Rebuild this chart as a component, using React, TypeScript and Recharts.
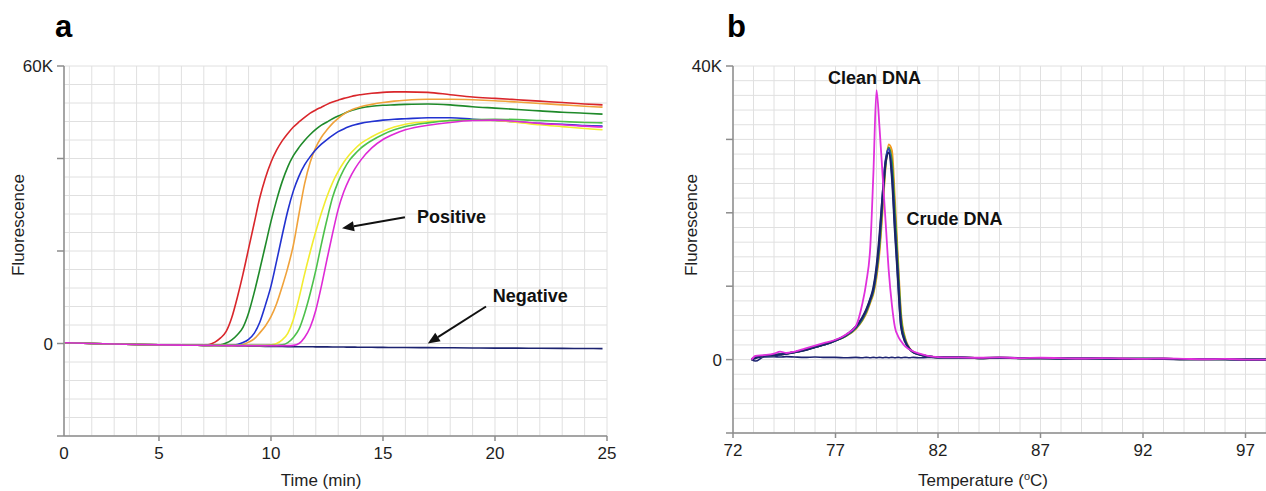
import React from "react";
import {
  LineChart,
  Line,
  XAxis,
  YAxis,
  CartesianGrid,
  ReferenceLine,
  ReferenceDot,
} from "recharts";

const FONT = '"Liberation Sans", Arial, Helvetica, sans-serif';
const AXIS = "#8c8c8c";
const GRID = "#e0e0e0";
const INK = "#1e1e1e";

// ---------- panel a: amplification (min, fluorescence in K) ----------
const startA = 0.76;
const timeA = [0.8, 2, 4, 6, 6.5, 7, 7.25, 7.5, 7.75, 8, 8.25, 8.5, 8.75, 9, 9.25, 9.5, 9.75, 10, 10.25, 10.5, 10.75, 11, 11.25, 11.5, 11.75, 12, 12.25, 12.5, 12.75, 13, 13.25, 13.5, 13.75, 14, 14.5, 15, 15.5, 16, 17, 18, 19, 20, 21, 22, 23, 24, 24.8];
const redA = [0.15, 0, -0.2, -0.35, -0.38, -0.35, -0.2, 0.3, 1.2, 2.6, 5.6, 10.0, 15.0, 20.5, 26, 31.5, 35.8, 39.2, 41.8, 43.8, 45.4, 46.8, 47.9, 48.9, 49.8, 50.5, 51.1, 51.7, 52.2, 52.6, 53.0, 53.3, 53.6, 53.8, 54.1, 54.3, 54.4, 54.4, 54.3, 53.8, 53.3, 53.0, 52.7, 52.4, 52.1, 51.8, 51.6];
const darkGreenA = [0.15, 0, -0.2, -0.35, -0.38, -0.4, -0.4, -0.35, -0.3, 0.1, 0.8, 1.9, 3.5, 6.6, 11.0, 16.0, 21.2, 26.4, 31.0, 35.0, 38.2, 40.6, 42.4, 43.9, 45.2, 46.3, 47.2, 47.9, 48.6, 49.2, 49.7, 50.2, 50.6, 50.9, 51.3, 51.5, 51.6, 51.7, 51.8, 51.6, 51.2, 50.9, 50.6, 50.3, 50.0, 49.8, 49.6];
const orangeA = [0.15, 0, -0.2, -0.35, -0.38, -0.4, -0.4, -0.4, -0.4, -0.4, -0.4, -0.35, -0.2, 0.3, 1.0, 2.3, 3.8, 5.8, 8.6, 12.3, 16.4, 21.3, 28.0, 34.5, 39.2, 42.4, 44.6, 46.2, 47.6, 48.7, 49.6, 50.3, 50.8, 51.2, 51.7, 52.1, 52.4, 52.6, 52.8, 52.8, 52.7, 52.5, 52.2, 51.9, 51.6, 51.3, 51.1];
const blueA = [0.15, 0, -0.2, -0.35, -0.38, -0.4, -0.4, -0.4, -0.4, -0.4, -0.35, -0.2, 0.2, 0.9, 2.2, 4.6, 8.3, 12.4, 17.8, 23.4, 28.7, 33.0, 36.2, 38.6, 40.4, 41.9, 43.1, 44.1, 45.0, 45.8, 46.4, 46.9, 47.3, 47.6, 48.0, 48.3, 48.5, 48.6, 48.8, 48.8, 48.5, 48.2, 47.9, 47.6, 47.4, 47.1, 47.0];
const yellowA = [0.15, 0, -0.2, -0.35, -0.38, -0.4, -0.4, -0.4, -0.4, -0.4, -0.4, -0.4, -0.4, -0.4, -0.4, -0.4, -0.4, -0.3, 0, 0.8, 2.2, 5.2, 9.8, 15.0, 19.8, 24.2, 28.2, 31.8, 34.8, 37.2, 39.2, 40.8, 42.1, 43.2, 44.7, 45.9, 46.8, 47.4, 48.0, 48.2, 48.3, 48.2, 47.8, 47.3, 46.9, 46.5, 46.2];
const lightGreenA = [0.15, 0, -0.2, -0.35, -0.38, -0.4, -0.4, -0.4, -0.4, -0.4, -0.4, -0.4, -0.4, -0.4, -0.4, -0.4, -0.4, -0.4, -0.4, -0.3, 0.2, 1.3, 3.1, 6.5, 10.8, 15.8, 21.5, 26.8, 31.6, 35.0, 37.6, 39.6, 41.0, 42.2, 43.9, 45.2, 46.2, 46.9, 47.7, 48.2, 48.4, 48.5, 48.4, 48.2, 48.0, 47.8, 47.7];
const magentaA = [0.15, 0, -0.2, -0.35, -0.38, -0.4, -0.4, -0.42, -0.42, -0.45, -0.45, -0.45, -0.45, -0.45, -0.45, -0.45, -0.45, -0.45, -0.45, -0.45, -0.45, -0.4, 0, 1.3, 3.5, 7.2, 12.4, 18.2, 23.8, 29, 32.8, 35.6, 37.8, 39.6, 42.3, 44.1, 45.3, 46.2, 47.2, 47.8, 48.2, 48.3, 48.0, 47.6, 47.3, 47.0, 46.8];
const negativeA = [0.15, 0, -0.2, -0.35, -0.38, -0.4, -0.42, -0.44, -0.46, -0.48, -0.5, -0.52, -0.54, -0.56, -0.58, -0.6, -0.62, -0.64, -0.65, -0.66, -0.67, -0.68, -0.69, -0.7, -0.71, -0.72, -0.73, -0.74, -0.75, -0.76, -0.77, -0.78, -0.79, -0.8, -0.82, -0.84, -0.86, -0.88, -0.9, -0.93, -0.96, -0.99, -1.01, -1.03, -1.05, -1.08, -1.1];

const gridTimeA = [startA, 1, 2, 3, 4, 5, 6, 7, 8, 9, 10, 11, 12, 13, 14, 15, 16, 17, 18, 19, 20, 21, 22, 23, 24, 25];
const markTimeA = [5, 10, 15, 20, 25];
const labelTimeA = [startA, 5, 10, 15, 20, 25];
const gridFluA = [-20, -16, -12, -8, -4, 0, 4, 8, 12, 16, 20, 24, 28, 32, 36, 40, 44, 48, 52, 56, 60];
const markFluA = [-20, 0, 20, 40, 60];
const labelFluA: Record<number, string> = { 60: "60K", 0: "0" };

// ---------- panel b: melt curve (deg C, fluorescence in K) ----------
const tempB = [72.9, 73.1, 73.5, 74, 74.3, 74.6, 75, 75.5, 76, 76.5, 77, 77.5, 78, 78.3, 78.5, 78.7, 78.85, 79, 79.15, 79.3, 79.45, 79.6, 79.75, 79.9, 80.05, 80.2, 80.4, 80.6, 80.8, 81.1, 81.5, 82, 83, 84, 85, 86, 87, 88, 89, 90, 91, 92, 93, 94, 95, 96, 97, 98];
const cleanB = [0, 0.5, 0.6, 0.8, 1.1, 0.9, 1.1, 1.5, 1.9, 2.3, 2.7, 3.4, 4.6, 7.5, 10.5, 15.5, 25.5, 36.7, 31.5, 25, 18.5, 12, 7.5, 4.4, 3.2, 2.5, 1.8, 1.4, 1.1, 0.8, 0.5, 0.35, 0.3, 0.25, 0.3, 0.2, 0.25, 0.2, 0.15, 0.2, 0.15, 0.1, 0.15, 0.1, 0.05, 0.1, 0, 0];
const orangeB = [0, 0.3, 0.5, 0.6, 0.7, 0.8, 1.0, 1.3, 1.7, 2.1, 2.6, 3.2, 4.2, 5.3, 6.3, 7.8, 9.0, 11.2, 14.8, 20.5, 26.5, 29.3, 28.5, 21.5, 13.5, 6.2, 2.9, 1.6, 1.0, 0.7, 0.45, 0.3, 0.3, 0.2, 0.25, 0.2, 0.2, 0.15, 0.15, 0.15, 0.1, 0.1, 0.1, 0.05, 0.05, 0.05, 0, 0];
const greenB = [0, 0.3, 0.5, 0.6, 0.7, 0.8, 1.0, 1.3, 1.7, 2.1, 2.6, 3.2, 4.3, 5.4, 6.5, 8.0, 9.3, 11.8, 15.6, 21.5, 26.8, 28.9, 27, 20, 12.5, 5.6, 2.7, 1.5, 1.0, 0.7, 0.45, 0.3, 0.3, 0.2, 0.25, 0.2, 0.2, 0.15, 0.15, 0.15, 0.1, 0.1, 0.1, 0.05, 0.05, 0.05, 0, 0];
const blueB = [0, 0.3, 0.5, 0.6, 0.7, 0.8, 1.0, 1.3, 1.7, 2.1, 2.6, 3.3, 4.4, 5.6, 6.7, 8.2, 9.6, 12.3, 16.5, 22.6, 27.3, 28.7, 25.5, 18, 11, 4.6, 2.5, 1.5, 1.0, 0.7, 0.45, 0.3, 0.3, 0.2, 0.25, 0.2, 0.2, 0.15, 0.15, 0.15, 0.1, 0.1, 0.1, 0.05, 0.05, 0.05, 0, 0];
const navyB = [0, 0.2, 0.5, 0.6, 0.7, 0.8, 1.0, 1.3, 1.7, 2.1, 2.6, 3.3, 4.5, 5.7, 6.8, 8.3, 9.8, 12.6, 17, 22.4, 27, 28.2, 25, 17.5, 10.8, 4.5, 2.4, 1.5, 1.0, 0.7, 0.45, 0.3, 0.3, 0.2, 0.25, 0.2, 0.2, 0.15, 0.15, 0.15, 0.1, 0.1, 0.1, 0.05, 0.05, 0.05, 0, 0];
const negativeB = [0, -0.2, 0.35, 0.4, 0.35, 0.4, 0.35, 0.3, 0.35, 0.3, 0.3, 0.25, 0.3, 0.25, 0.3, 0.25, 0.3, 0.25, 0.3, 0.25, 0.3, 0.25, 0.3, 0.25, 0.3, 0.25, 0.3, 0.25, 0.3, 0.25, 0.3, 0.3, 0.25, 0.2, 0.25, 0.2, 0.2, 0.15, 0.15, 0.15, 0.1, 0.1, 0.1, 0.05, 0.05, 0.05, 0, 0];

const gridTempB = [72, 73, 74, 75, 76, 77, 78, 79, 80, 81, 82, 83, 84, 85, 86, 87, 88, 89, 90, 91, 92, 93, 94, 95, 96, 97, 98];
const markTempB = [72, 77, 82, 87, 92, 97];
const gridFluB = [-10, -8, -6, -4, -2, 0, 2, 4, 6, 8, 10, 12, 14, 16, 18, 20, 22, 24, 26, 28, 30, 32, 34, 36, 38, 40];
const markFluB = [-10, 0, 10, 20, 30, 40];
const labelFluB: Record<number, string> = { 40: "40K", 0: "0" };

const pts = (xs: number[], ys: number[]) => xs.map((x, i) => ({ x, y: ys[i] }));

const makeXTick =
  (marks: number[], labels: number[], text: (v: number) => string) => (p: any) => {
    const v = p.payload.value;
    return (
      <g>
        {marks.includes(v) && (
          <line x1={p.x} x2={p.x} y1={p.y} y2={p.y + 5} stroke={AXIS} strokeWidth={1.5} />
        )}
        {labels.includes(v) && (
          <text x={p.x} y={p.y + 23} textAnchor="middle" fontSize={17} fontFamily={FONT} fill={INK}>
            {text(v)}
          </text>
        )}
      </g>
    );
  };

const makeYTick = (marks: number[], labels: Record<number, string>) => (p: any) => {
  const v = p.payload.value;
  return (
    <g>
      {marks.includes(v) && (
        <line x1={p.x - 7} x2={p.x} y1={p.y} y2={p.y} stroke={AXIS} strokeWidth={1.5} />
      )}
      {labels[v] !== undefined && (
        <text x={p.x - 11} y={p.y + 6} textAnchor="end" fontSize={17} fontFamily={FONT} fill={INK}>
          {labels[v]}
        </text>
      )}
    </g>
  );
};

const Arrow = (p: any) => {
  const { x1, y1, x2, y2 } = p;
  const dx = x2 - x1;
  const dy = y2 - y1;
  const len = Math.hypot(dx, dy) || 1;
  const ux = dx / len;
  const uy = dy / len;
  const bx = x2 - ux * 12;
  const by = y2 - uy * 12;
  return (
    <g>
      <line x1={x1} y1={y1} x2={bx} y2={by} stroke="#111" strokeWidth={2} />
      <polygon
        points={`${x2},${y2} ${bx - uy * 5},${by + ux * 5} ${bx + uy * 5},${by - ux * 5}`}
        fill="#111"
      />
    </g>
  );
};

const note = (text: string, anchor: "start" | "middle") => (p: any) => (
  <text
    x={p.cx}
    y={p.cy + 6}
    textAnchor={anchor}
    fontSize={18}
    fontWeight="bold"
    fontFamily={FONT}
    fill="#111"
  >
    {text}
  </text>
);

const seriesA = [
  { d: negativeA, c: "#1c2370" },
  { d: redA, c: "#d9262b" },
  { d: darkGreenA, c: "#1f8a2a" },
  { d: orangeA, c: "#f0a23a" },
  { d: blueA, c: "#2232d0" },
  { d: yellowA, c: "#f2ec30" },
  { d: lightGreenA, c: "#4cc14a" },
  { d: magentaA, c: "#de2ad6" },
];

const seriesB = [
  { d: negativeB, c: "#1c2370", w: 1.6 },
  { d: orangeB, c: "#f39a1e", w: 2 },
  { d: greenB, c: "#2e9a3a", w: 2 },
  { d: blueB, c: "#2d3fc4", w: 2 },
  { d: navyB, c: "#1a2466", w: 2.2 },
  { d: cleanB, c: "#e030dc", w: 1.8 },
];

export default function App() {
  return (
    <div
      style={{
        position: "absolute",
        left: 0,
        top: 0,
        width: 1266,
        height: 491,
        background: "#fff",
        overflow: "hidden",
      }}
    >
      <div style={{ position: "absolute", left: 0, top: 0 }}>
        <LineChart width={640} height={491} margin={{ top: 66, right: 33, bottom: 0, left: 0 }}>
          <CartesianGrid stroke={GRID} strokeWidth={1} />
          <XAxis
            dataKey="x"
            type="number"
            domain={[startA, 25]}
            allowDataOverflow
            ticks={gridTimeA}
            interval={0}
            height={55}
            tickSize={0}
            tickMargin={0}
            tickLine={false}
            axisLine={{ stroke: AXIS, strokeWidth: 1.5 }}
            tick={makeXTick(markTimeA, labelTimeA, (v) => (v === startA ? "0" : String(v)))}
          />
          <YAxis
            type="number"
            domain={[-20, 60]}
            allowDataOverflow
            ticks={gridFluA}
            interval={0}
            width={64}
            tickSize={0}
            tickMargin={0}
            tickLine={false}
            axisLine={{ stroke: AXIS, strokeWidth: 1.5 }}
            tick={makeYTick(markFluA, labelFluA)}
          />
          {seriesA.map((s, i) => (
            <Line
              key={i}
              data={pts(timeA, s.d)}
              dataKey="y"
              type="monotone"
              stroke={s.c}
              strokeWidth={1.6}
              dot={false}
              isAnimationActive={false}
            />
          ))}
          <ReferenceLine segment={[{ x: 15.98, y: 27.3 }, { x: 13.17, y: 24.9 }]} shape={Arrow} />
          <ReferenceLine segment={[{ x: 19.6, y: 8.0 }, { x: 17.0, y: 0 }]} shape={Arrow} />
          <ReferenceDot x={16.52} y={27.3} r={0} shape={note("Positive", "start")} />
          <ReferenceDot x={19.9} y={10.2} r={0} shape={note("Negative", "start")} />
        </LineChart>
      </div>

      <div style={{ position: "absolute", left: 660, top: 0 }}>
        <LineChart width={606} height={491} margin={{ top: 66, right: 0, bottom: 0, left: 0 }}>
          <CartesianGrid stroke={GRID} strokeWidth={1} />
          <XAxis
            dataKey="x"
            type="number"
            domain={[72, 98]}
            allowDataOverflow
            ticks={gridTempB}
            interval={0}
            height={58}
            tickSize={0}
            tickMargin={0}
            tickLine={false}
            axisLine={{ stroke: AXIS, strokeWidth: 1.5 }}
            tick={makeXTick(markTempB, markTempB, (v) => String(v))}
          />
          <YAxis
            type="number"
            domain={[-10, 40]}
            allowDataOverflow
            ticks={gridFluB}
            interval={0}
            width={73}
            tickSize={0}
            tickMargin={0}
            tickLine={false}
            axisLine={{ stroke: AXIS, strokeWidth: 1.5 }}
            tick={makeYTick(markFluB, labelFluB)}
          />
          {seriesB.map((s, i) => (
            <Line
              key={i}
              data={pts(tempB, s.d)}
              dataKey="y"
              type="monotone"
              stroke={s.c}
              strokeWidth={s.w}
              dot={false}
              isAnimationActive={false}
            />
          ))}
          <ReferenceDot x={78.9} y={38.4} r={0} shape={note("Clean DNA", "middle")} />
          <ReferenceDot x={80.46} y={19.1} r={0} shape={note("Crude DNA", "start")} />
        </LineChart>
      </div>

      <svg
        width={1266}
        height={491}
        style={{ position: "absolute", left: 0, top: 0, pointerEvents: "none" }}
        fontFamily={FONT}
        fill={INK}
      >
        <text x={55} y={37} fontSize={31} fontWeight="bold" fill="#000">a</text>
        <text x={727} y={37} fontSize={31} fontWeight="bold" fill="#000">b</text>
        <text
          x={18}
          y={225}
          fontSize={17}
          textAnchor="middle"
          dominantBaseline="central"
          transform="rotate(-90 18 225)"
        >
          Fluorescence
        </text>
        <text
          x={691}
          y={225}
          fontSize={17}
          textAnchor="middle"
          dominantBaseline="central"
          transform="rotate(-90 691 225)"
        >
          Fluorescence
        </text>
        <text x={321} y={486} fontSize={17} textAnchor="middle">Time (min)</text>
        <text x={983} y={486} fontSize={17} textAnchor="middle">
          Temperature (<tspan dy={-6} fontSize={11}>o</tspan>
          <tspan dy={6}>C)</tspan>
        </text>
      </svg>
    </div>
  );
}
